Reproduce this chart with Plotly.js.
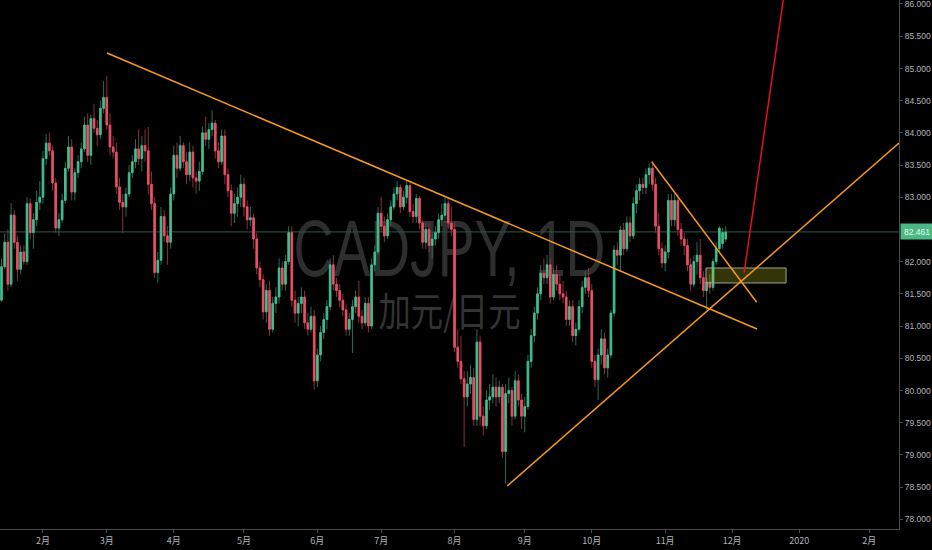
<!DOCTYPE html>
<html>
<head>
<meta charset="utf-8">
<script src="https://cdn.plot.ly/plotly-3.0.1.min.js"></script>
<style>html,body{margin:0;padding:0;background:#000;}#chart{width:932px;height:550px;}</style>
</head>
<body>
<div id="chart"></div>
<script>
// ---- data ----
const firstBarDate = "2019-01-15";
const barCount = 228;

const openPrices = [
81.40,81.92,82.30,81.65,82.72,82.30,81.88,82.15,82.00,82.90,
82.45,82.65,82.92,83.00,83.60,83.84,83.72,83.22,82.52,82.65,
82.95,83.45,83.78,83.08,83.38,83.55,83.75,84.12,83.65,84.22,
84.07,83.97,84.38,84.55,84.12,83.78,83.70,83.16,82.92,82.85,
83.05,83.38,83.55,83.75,83.60,83.80,83.72,83.20,82.90,81.83,
82.02,82.70,82.40,82.30,83.05,83.65,83.45,83.80,83.55,83.35,
83.70,83.30,83.25,83.40,84.00,83.90,84.05,84.15,83.72,83.55,
83.95,83.35,83.10,82.75,82.90,83.00,83.20,82.85,82.65,82.68,
82.35,81.90,81.72,81.22,81.55,80.95,81.35,81.45,81.90,81.65,
82.00,82.45,81.40,81.20,81.35,81.45,81.05,80.95,81.15,80.15,
80.55,80.90,81.10,81.30,81.95,81.65,81.55,81.40,81.25,80.95,
81.10,81.30,81.45,81.15,81.05,81.35,81.00,81.95,82.15,82.75,
82.55,82.40,82.65,82.85,83.05,83.15,82.85,83.00,83.18,82.78,
82.70,82.98,82.60,82.30,82.50,82.25,82.35,82.45,82.65,82.72,
82.90,82.60,82.50,80.67,80.45,80.18,79.90,80.10,80.20,79.55,
80.75,79.60,79.45,79.85,79.90,80.05,79.90,80.05,79.05,79.95,
80.00,79.60,80.15,79.85,79.60,79.75,80.45,80.85,81.20,81.50,
81.82,81.75,81.95,81.45,81.80,81.65,81.50,81.45,81.10,81.30,
80.85,80.95,81.30,81.60,81.75,81.55,80.45,80.17,80.55,80.80,
80.35,80.55,81.20,82.18,82.10,82.49,82.20,82.60,82.40,82.90,
83.10,83.20,83.15,83.35,83.45,83.20,82.55,82.20,81.98,82.15,
82.95,82.65,82.95,82.50,82.35,82.25,81.95,81.65,82.00,82.10,
81.75,81.55,81.68,81.60,82.00,82.20,82.28,82.35];

const highPrices = [
82.05,82.44,82.50,82.91,82.80,82.40,82.25,82.25,83.00,82.98,
82.75,83.10,83.25,83.72,83.98,84.00,83.80,83.30,82.75,83.05,
83.55,83.95,83.90,83.45,83.65,83.85,84.25,84.30,84.28,84.45,
84.20,84.50,84.80,84.88,84.30,83.95,83.85,83.30,83.05,83.15,
83.50,83.65,83.90,84.05,83.95,84.05,84.09,83.40,83.00,82.15,
82.85,82.80,82.55,83.15,83.80,83.85,83.95,83.85,83.70,83.85,
83.80,83.40,83.55,84.10,84.25,84.15,84.35,84.20,83.85,84.05,
84.05,83.45,83.20,83.05,83.15,83.35,83.30,82.95,82.85,82.75,
82.45,82.00,81.80,81.65,81.70,81.45,81.60,82.05,82.00,82.10,
82.55,82.55,81.55,81.45,81.60,81.55,81.20,81.30,81.25,80.65,
81.00,81.20,81.40,82.05,82.10,81.75,81.65,81.50,81.35,81.20,
81.40,81.55,81.70,81.25,81.45,81.45,82.05,82.25,82.85,83.00,
82.70,82.75,82.95,83.15,83.25,83.20,83.10,83.25,83.22,82.90,
83.05,83.02,82.65,82.60,82.60,82.45,82.55,82.75,82.90,83.00,
83.00,82.85,82.62,80.95,80.85,80.30,80.30,80.40,80.35,80.95,
80.85,79.75,80.00,80.10,80.25,80.20,80.15,80.10,80.10,80.20,
80.05,80.30,80.25,79.95,79.90,80.55,80.95,81.30,81.60,81.95,
82.05,82.10,82.05,81.90,81.95,81.80,81.70,81.55,81.40,81.40,
81.05,81.40,81.70,81.85,81.90,81.65,80.55,80.65,80.95,80.90,
80.65,81.25,82.25,82.30,82.55,82.60,82.70,82.70,83.00,83.20,
83.30,83.30,83.45,83.52,83.56,83.30,82.75,82.30,82.25,83.05,
83.05,83.05,83.05,82.60,82.45,82.35,82.05,82.10,82.30,82.35,
81.85,81.75,81.80,82.05,82.30,82.55,82.52,82.55];

const lowPrices = [
81.38,81.88,81.55,81.60,82.20,81.70,81.80,81.95,81.95,82.35,
82.20,82.55,82.80,82.90,83.50,83.65,83.10,82.45,82.40,82.60,
82.90,83.40,82.95,82.95,83.30,83.45,83.70,83.55,83.50,84.00,
83.80,83.90,84.30,84.05,83.65,83.60,83.05,82.80,82.44,82.70,
83.00,83.30,83.45,83.50,83.40,83.55,83.05,82.80,81.75,81.67,
81.95,82.30,81.95,82.20,82.95,83.30,83.40,83.45,83.20,83.25,
83.15,83.05,83.10,83.35,83.80,83.75,83.95,83.60,83.45,83.50,
83.20,83.00,82.55,82.60,82.70,82.85,82.70,82.50,82.55,82.20,
81.80,81.60,81.10,81.05,80.85,80.90,81.20,81.35,81.55,81.55,
81.95,81.30,81.05,81.00,81.20,80.95,80.85,80.90,80.01,80.05,
80.45,80.80,80.95,81.25,81.55,81.45,81.30,81.15,80.85,80.85,
80.58,81.20,81.05,80.95,81.00,80.90,80.95,81.85,82.10,82.45,
82.30,82.35,82.55,82.80,82.95,82.75,82.80,82.90,82.70,82.60,
82.60,82.50,82.20,82.20,82.15,82.05,82.25,82.35,82.55,82.60,
82.50,82.40,80.60,80.35,80.10,79.12,79.75,79.95,79.45,79.45,
79.45,79.30,79.40,79.70,79.80,79.75,79.80,78.95,78.55,79.80,
79.45,79.55,79.75,79.40,79.35,79.70,80.35,80.75,81.10,81.40,
81.65,81.65,81.35,81.40,81.55,81.40,81.35,81.00,81.00,80.75,
80.70,80.90,81.20,81.50,81.45,80.35,80.05,79.85,80.40,80.25,
80.20,80.50,81.15,81.95,81.85,82.10,82.15,82.30,82.35,82.75,
82.95,83.05,83.05,83.20,83.10,82.45,82.10,81.90,81.85,82.05,
82.55,82.55,82.40,82.25,82.10,81.85,81.55,81.60,81.80,81.65,
81.45,81.25,81.50,81.55,81.95,82.15,82.20,82.30];

const closePrices = [
81.92,82.30,81.65,82.72,82.30,81.88,82.15,82.00,82.90,82.45,
82.65,82.92,83.00,83.60,83.84,83.72,83.22,82.52,82.65,82.95,
83.45,83.78,83.08,83.38,83.55,83.75,84.12,83.65,84.22,84.07,
83.97,84.38,84.55,84.12,83.78,83.70,83.16,82.92,82.85,83.05,
83.38,83.55,83.75,83.60,83.80,83.72,83.20,82.90,81.83,82.02,
82.70,82.40,82.30,83.05,83.65,83.45,83.80,83.55,83.35,83.70,
83.30,83.25,83.40,84.00,83.90,84.05,84.15,83.72,83.55,83.95,
83.35,83.10,82.75,82.90,83.00,83.20,82.85,82.65,82.68,82.35,
81.90,81.72,81.22,81.55,80.95,81.35,81.45,81.90,81.65,82.00,
82.45,81.40,81.20,81.35,81.45,81.05,80.95,81.15,80.15,80.55,
80.90,81.10,81.30,81.95,81.65,81.55,81.40,81.25,80.95,81.10,
81.30,81.45,81.15,81.05,81.35,81.00,81.95,82.15,82.75,82.55,
82.40,82.65,82.85,83.05,83.15,82.85,83.00,83.18,82.78,82.70,
82.98,82.60,82.30,82.50,82.25,82.35,82.45,82.65,82.72,82.90,
82.60,82.50,80.67,80.45,80.18,79.90,80.10,80.20,79.55,80.75,
79.60,79.45,79.85,79.90,80.05,79.90,80.05,79.05,79.95,80.00,
79.60,80.15,79.85,79.60,79.75,80.45,80.85,81.20,81.50,81.82,
81.75,81.95,81.45,81.80,81.65,81.50,81.45,81.10,81.30,80.85,
80.95,81.30,81.60,81.75,81.55,80.45,80.17,80.55,80.80,80.35,
80.55,81.20,82.18,82.10,82.49,82.20,82.60,82.40,82.90,83.10,
83.20,83.15,83.35,83.45,83.20,82.55,82.20,81.98,82.15,82.95,
82.65,82.95,82.50,82.35,82.25,81.95,81.65,82.00,82.10,81.75,
81.55,81.68,81.60,82.00,82.20,82.52,82.45,82.461];

const lastPrice = 82.461;

const monthTickDates = ["2019-02-01","2019-03-01","2019-04-01","2019-05-01","2019-06-03","2019-07-01",
  "2019-08-01","2019-09-02","2019-10-01","2019-11-01","2019-12-02","2020-01-02","2020-02-03"];
const monthTickLabels = ["2月","3月","4月","5月","6月","7月","8月","9月","10月","11月","12月","2020","2月"];

// price-scale labels (82.500 is covered by the last-price tag in the reference)
const priceTickValues = [78.0,78.5,79.0,79.5,80.0,80.5,81.0,81.5,82.0,83.0,83.5,84.0,84.5,85.0,85.5,86.0];
const priceTickLabels = ["78.000","78.500","79.000","79.500","80.000","80.500","81.000","81.500","82.000",
  "83.000","83.500","84.000","84.500","85.000","85.500","86.000"];

// drawings placed on the chart (trend lines, target arrow, zone)
const trendLines = [
  {from:["2019-03-01 01:26",85.239], to:["2019-12-11 19:12",80.953], color:"#f79a1e"},
  {from:["2019-08-23 12:00",78.516], to:["2020-02-14 07:12",83.842], color:"#f79a1e"},
  {from:["2019-10-25 19:12",83.551], to:["2019-12-11 16:48",81.368], color:"#f79a1e"},
  {from:["2019-12-05 18:00",81.828], to:["2019-12-24 16:48",86.300], color:"#e3131b"}
];
const zoneBox = {x:["2019-11-19 19:12","2019-12-24 21:36"], y:[81.668,81.901]};

// ---- build ----
function weekdayDates(start, n){
  const out=[]; let t=Date.parse(start+"T00:00:00Z");
  while(out.length<n){ const d=new Date(t); const w=d.getUTCDay();
    if(w!==0 && w!==6) out.push(d.toISOString().slice(0,10)); t+=86400000; }
  return out;
}
const dates = weekdayDates(firstBarDate, barCount);
const bodyHigh = openPrices.map((o,i)=>Math.max(o,closePrices[i]));
const bodyLow  = openPrices.map((o,i)=>Math.min(o,closePrices[i]));

const wickTrace = {
  type:"candlestick", x:dates, open:openPrices, high:highPrices, low:lowPrices, close:closePrices,
  increasing:{line:{color:"#22705a",width:1}, fillcolor:"#22705a"},
  decreasing:{line:{color:"#8c2f3e",width:1}, fillcolor:"#8c2f3e"},
  whiskerwidth:0, hoverinfo:"skip", showlegend:false
};
const bodyTrace = {
  type:"candlestick", x:dates, open:openPrices, high:bodyHigh, low:bodyLow, close:closePrices,
  increasing:{line:{color:"#43c08f",width:0.8}, fillcolor:"#43c08f"},
  decreasing:{line:{color:"#ee4f66",width:0.8}, fillcolor:"#ee4f66"},
  whiskerwidth:0, hoverinfo:"skip", showlegend:false
};

const shapes = [];
shapes.push({type:"rect", xref:"x domain", yref:"y domain", x0:0.2, x1:0.8, y0:0.4935, y1:0.5935,
  line:{width:0}, fillcolor:"rgba(0,0,0,0)", layer:"below",
  label:{text:"CADJPY, 1D", textposition:"middle center",
    font:{family:"Liberation Sans, Arial, sans-serif", size:79, color:"#2e2e2e"}}});
shapes.push({type:"rect", xref:"x domain", yref:"y domain", x0:0.3, x1:0.7, y0:0.365, y1:0.445,
  line:{width:0}, fillcolor:"rgba(0,0,0,0)", layer:"below",
  label:{text:"加元/日元", textposition:"middle center",
    font:{family:"Noto Sans CJK SC, sans-serif", size:40, color:"#333333"}}});
shapes.push({type:"line", xref:"x domain", yref:"y", x0:0, x1:1, y0:lastPrice, y1:lastPrice,
  line:{color:"#245f4a", width:1}, layer:"below"});
shapes.push({type:"rect", xref:"x", yref:"y", x0:zoneBox.x[0], x1:zoneBox.x[1], y0:zoneBox.y[0], y1:zoneBox.y[1],
  line:{color:"#a3a38a", width:1}, fillcolor:"rgba(235,235,40,0.22)", layer:"above"});
trendLines.forEach(l=>shapes.push({type:"line", xref:"x", yref:"y",
  x0:l.from[0], y0:l.from[1], x1:l.to[0], y1:l.to[1], line:{color:l.color, width:1.5}, layer:"above"}));

const layout = {
  width:932, height:550,
  paper_bgcolor:"#000000", plot_bgcolor:"#000000",
  margin:{l:0, r:33, t:0, b:21, pad:0},
  showlegend:false, hovermode:false,
  xaxis:{type:"date", range:["2019-01-14 12:43","2020-02-14 07:12"],
    rangebreaks:[{bounds:["sat","mon"]},{values:["2019-12-25","2020-01-01"]}],
    rangeslider:{visible:false}, tickmode:"array", tickvals:monthTickDates, ticktext:monthTickLabels,
    showgrid:false, zeroline:false, showline:true, linecolor:"#4a4a4a", linewidth:1,
    ticks:"outside", ticklen:3, tickcolor:"#4a4a4a",
    tickfont:{family:"Noto Sans CJK SC, sans-serif", size:9, color:"#b2b5be"}, fixedrange:true},
  yaxis:{side:"right", range:[77.848,86.062], tickmode:"array", tickvals:priceTickValues, ticktext:priceTickLabels,
    showgrid:false, zeroline:false, showline:true, linecolor:"#4a4a4a", linewidth:1,
    ticks:"outside", ticklen:3, tickcolor:"#4a4a4a", ticklabeloverflow:"allow", ticklabelstandoff:0,
    tickfont:{family:"Liberation Sans, Arial, sans-serif", size:9, color:"#b2b5be"}, fixedrange:true},
  shapes:shapes,
  annotations:[{xref:"paper", x:1, xanchor:"left", yref:"y", y:lastPrice, text:lastPrice.toFixed(3),
    showarrow:false, bgcolor:"#4bb886", font:{family:"Liberation Sans, Arial, sans-serif", size:9, color:"#e9fbf2"},
    width:30, height:13, borderpad:1, align:"center", xshift:1}]
};

Plotly.newPlot("chart", [wickTrace, bodyTrace], layout, {displayModeBar:false, staticPlot:true}).then(()=>{
  const fit = {"CADJPY, 1D":312, "加元/日元":142};
  priceTickLabels.forEach(s=>fit[s]=26);
  fit[lastPrice.toFixed(3)] = 26;
  document.querySelectorAll("#chart text").forEach(t=>{
    const w = fit[t.textContent];
    if(w){ t.setAttribute("textLength", w); t.setAttribute("lengthAdjust","spacingAndGlyphs"); }
  });
});
</script>
</body>
</html>
